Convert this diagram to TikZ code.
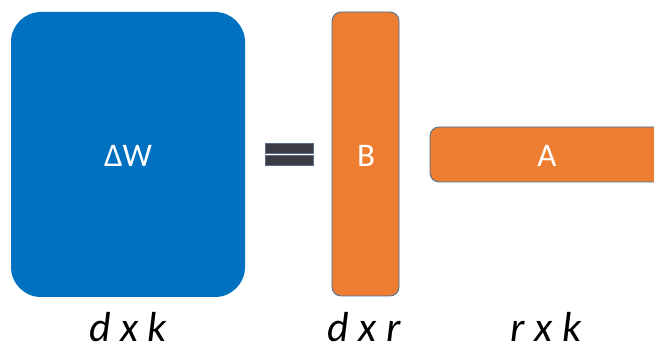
\documentclass[tikz,border=0pt]{standalone}
\usepackage{fontspec}
\setmainfont{Carlito}
\definecolor{wblue}{HTML}{0070C0}
\definecolor{orng}{HTML}{ED7D31}
\definecolor{oedge}{HTML}{41719C}
\definecolor{eqfill}{HTML}{3B3B45}
\definecolor{eqedge}{HTML}{5E6C8C}
\begin{document}
\begin{tikzpicture}[x=1pt,y=1pt,
  mat/.style={rectangle,inner sep=0pt,text=white,font=\fontsize{33pt}{36pt}\selectfont},
  bluemat/.style={mat,fill=wblue,rounded corners=30pt},
  orangemat/.style={mat,fill=orng,draw=oedge,line width=0.8pt,rounded corners=9pt},
  eqbar/.style={rectangle,inner sep=0pt,fill=eqfill,draw=eqedge,line width=0.6pt,minimum width=48pt,minimum height=10pt},
  dimlabel/.style={anchor=base,inner sep=0pt,font=\fontsize{42pt}{44pt}\selectfont\itshape}]
\useasboundingbox (0,0) rectangle (654,343);
\clip (0,0) rectangle (654,343);
\fill[white] (0,0) rectangle (654,343);
\node[bluemat,minimum width=234pt,minimum height=285pt] (W) at (128,188.5) {};
\node[mat] (Wt) at (128,187) {ΔW};
\node[eqbar] (eq1) at (289,194.5) {};
\node[eqbar] (eq2) at (289,182.5) {};
\node[orangemat,minimum width=67pt,minimum height=284pt] (B) at (365.5,189) {};
\node[mat] (Bt) at (366,187) {B};
\node[orangemat,minimum width=234pt,minimum height=55pt] (A) at (547,188.5) {};
\node[mat] (At) at (547,187) {A};
\node[dimlabel] (l1) at (128,1) {d x k};
\node[dimlabel] (l2) at (364,1) {d x r};
\node[dimlabel] (l3) at (546,1) {r x k};
\end{tikzpicture}
\end{document}
